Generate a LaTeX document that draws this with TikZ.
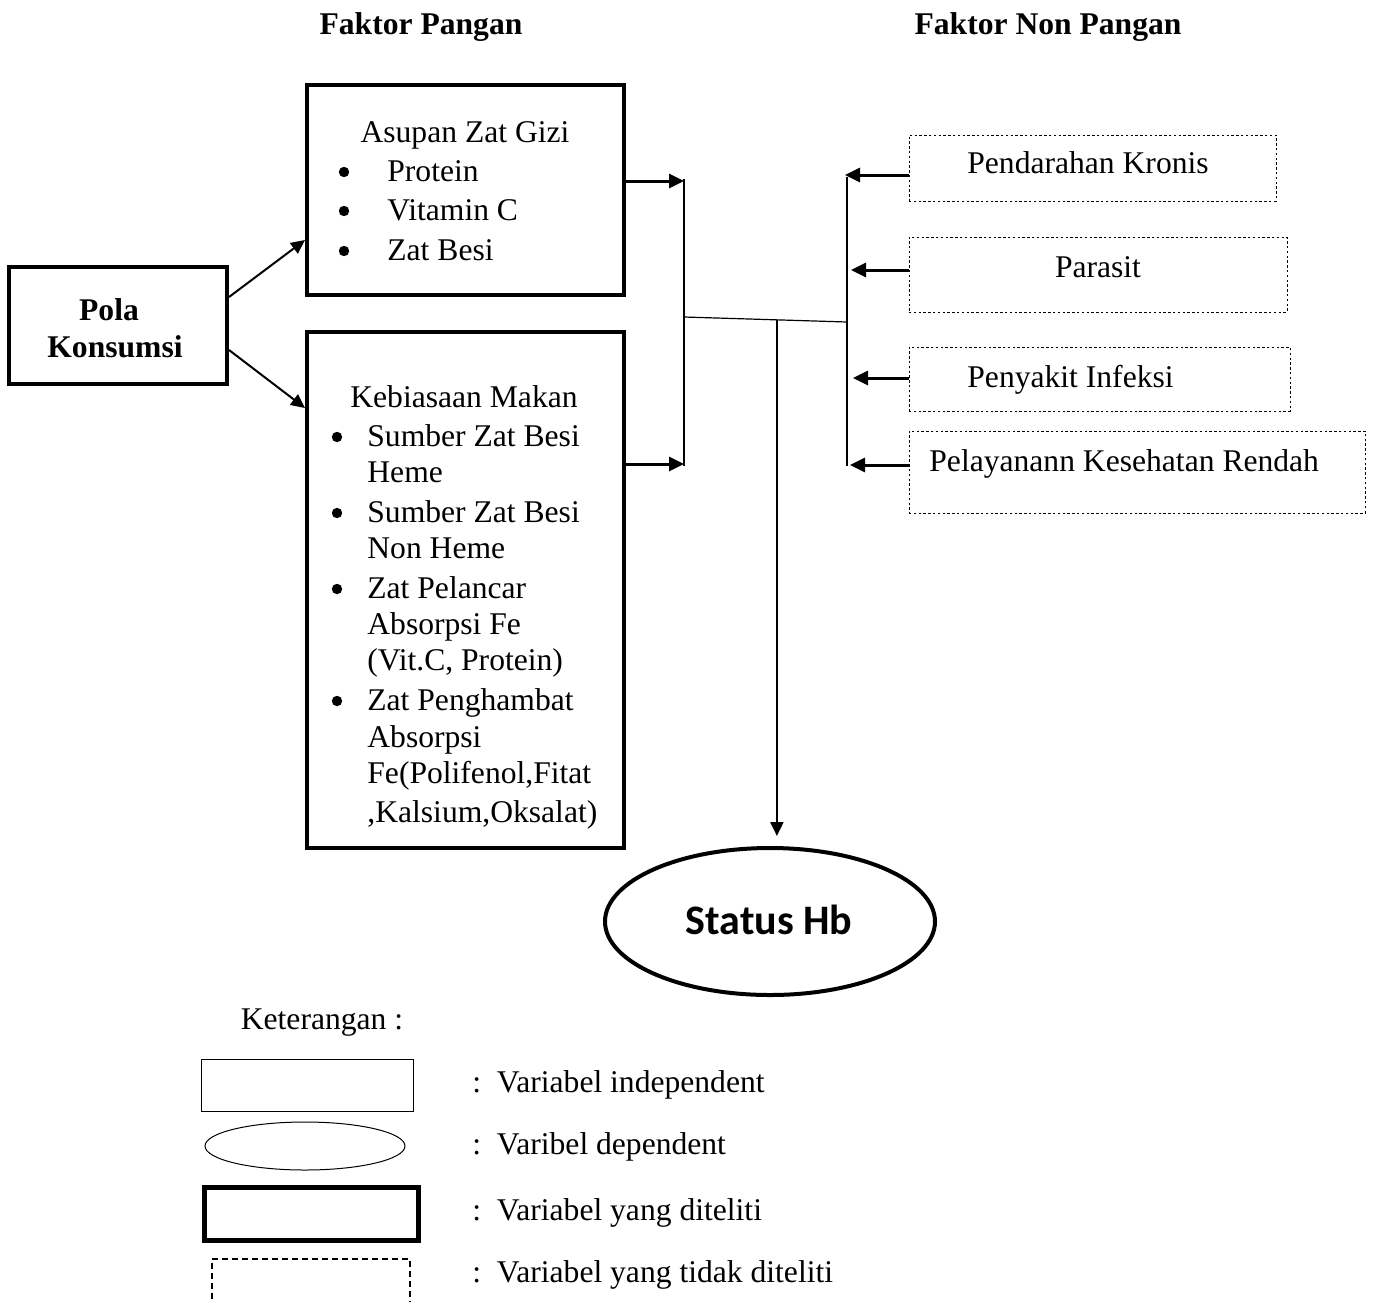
\documentclass[tikz,border=0pt]{standalone}
\usepackage{fontspec}
\setmainfont{Liberation Serif}
\newfontfamily\calib{Carlito}
\usetikzlibrary{arrows.meta,shapes.geometric,calc}
\begin{document}
\begin{tikzpicture}[x=0.5pt,y=-0.5pt,
  txt/.style={font=\fontsize{15.8}{19}\selectfont, inner sep=0pt, anchor=base},
  txtw/.style={txt, anchor=base west},
  btxt/.style={txt, font=\fontsize{15.8}{19}\selectfont\bfseries},
  bul/.style={circle, fill, inner sep=0pt, minimum size=5.2pt},
  thickbox/.style={draw, line width=2pt, inner sep=0pt},
  dotbox/.style={draw, line width=0.5pt, dash pattern=on 1.2pt off 1.2pt, inner sep=0pt},
  thinline/.style={line width=0.6pt},
  bigarrow/.style={line width=1.5pt, -{Triangle[length=7.5pt,width=7pt]}},
  midarrow/.style={line width=1pt, -{Triangle[length=7pt,width=6.5pt]}},
]
\useasboundingbox (0,0) rectangle (1374,1301);
\clip (0,0) rectangle (1374,1301);

% titles
\node[btxt] (t1) at (421,34) {Faktor Pangan};
\node[btxt] (t2) at (1048,34) {Faktor Non Pangan};

% main boxes
\node[thickbox, minimum width=109pt, minimum height=58.5pt] (pola) at (118,325.5) {};
\node[btxt] (pola1) at (109,320) {Pola};
\node[btxt] (pola2) at (115,357) {Konsumsi};

\node[thickbox, minimum width=158.5pt, minimum height=105pt] (asupan) at (465.5,190) {};
\node[txt] (as0) at (465,142) {Asupan Zat Gizi};
\node[bul] (asb1) at (344,172) {};
\node[bul] (asb2) at (344,211) {};
\node[bul] (asb3) at (344,251) {};
\node[txtw] (as1) at (387,181) {Protein};
\node[txtw] (as2) at (387,220) {Vitamin C};
\node[txtw] (as3) at (387,260) {Zat Besi};

\node[thickbox, minimum width=158.5pt, minimum height=258pt] (kebiasaan) at (465.5,590) {};
\node[txt] (kb0) at (464,407) {Kebiasaan Makan};
\node[bul] (kbb1) at (337,437) {};
\node[bul] (kbb2) at (337,513) {};
\node[bul] (kbb3) at (337,589) {};
\node[bul] (kbb4) at (337,701) {};
\node[txtw] (kb1) at (367,446) {Sumber Zat Besi};
\node[txtw] (kb2) at (367,482) {Heme};
\node[txtw] (kb3) at (367,522) {Sumber Zat Besi};
\node[txtw] (kb4) at (367,558) {Non Heme};
\node[txtw] (kb5) at (367,598) {Zat Pelancar};
\node[txtw] (kb6) at (367,634) {Absorpsi Fe};
\node[txtw] (kb7) at (367,670) {(Vit.C, Protein)};
\node[txtw] (kb8) at (367,710) {Zat Penghambat};
\node[txtw] (kb9) at (367,747) {Absorpsi};
\node[txtw] (kb10) at (367,783) {Fe(Polifenol,Fitat};
\node[txtw] (kb11) at (367,822) {,Kalsium,Oksalat)};

% non-food boxes
\node[dotbox, minimum width=183.5pt, minimum height=33pt] (pend) at (1092.5,168) {};
\node[txt] (pendt) at (1088,173) {Pendarahan Kronis};
\node[dotbox, minimum width=189pt, minimum height=37.5pt] (paras) at (1098,274.5) {};
\node[txt] (parast) at (1098,277) {Parasit};
\node[dotbox, minimum width=190.5pt, minimum height=32pt] (peny) at (1099.5,379) {};
\node[txtw] (penyt) at (967,387) {Penyakit Infeksi};
\node[dotbox, minimum width=228pt, minimum height=41pt] (pelay) at (1137,472) {};
\node[txtw] (pelayt) at (929,471) {Pelayanann Kesehatan Rendah};

% dependent ellipse
\node[ellipse, draw, line width=2pt, minimum width=165pt, minimum height=73.5pt, inner sep=0pt] (status) at (770,921.5) {};
\node[inner sep=0pt, font=\calib\bfseries\fontsize{21}{25}\selectfont] (statust) at (769,920) {Status Hb};

% connector skeleton
\coordinate (bL1) at (684,179);
\coordinate (bL2) at (684,466);
\coordinate (jL) at (684,317);
\coordinate (jR) at (847,322);
\coordinate (bR1) at (847,177);
\coordinate (bR2) at (847,466);
\coordinate (jD) at ($(jL)!0.57!(jR)$);

\draw[thinline] (bL1) -- (bL2);
\draw[thinline] (bR1) -- (bR2);
\draw[thinline] (jL) -- (jR);
\draw[midarrow] (jD) -- (jD |- status.north) [shorten >=5pt];

% arrows
\draw[midarrow] (pola.east |- 0,297) -- (asupan.west |- 0,240);
\draw[midarrow] (pola.east |- 0,350) -- (kebiasaan.west |- 0,408);
\draw[bigarrow] (asupan.east |- 0,181) -- (bL1 |- 0,181);
\draw[bigarrow] (kebiasaan.east |- 0,464) -- (bL1 |- 0,464);
\draw[bigarrow] (pend.west |- 0,175) -- (845,175);
\draw[bigarrow] (paras.west |- 0,270) -- (851,270);
\draw[bigarrow] (peny.west |- 0,378) -- (853,378);
\draw[bigarrow] (pelay.west |- 0,465) -- (850,465);

% legend
\node[txt] (ket) at (322,1029) {Keterangan :};
\node[draw, line width=0.5pt, minimum width=106pt, minimum height=26pt, inner sep=0pt] (lg1) at (307,1085) {};
\node[ellipse, draw, line width=0.5pt, minimum width=100pt, minimum height=24pt, inner sep=0pt] (lg2) at (305,1146) {};
\node[draw, line width=2.5pt, minimum width=107pt, minimum height=26.5pt, inner sep=0pt] (lg3) at (311,1213.5) {};
\node[draw, line width=0.6pt, dash pattern=on 3pt off 2pt, minimum width=99pt, minimum height=30pt, inner sep=0pt] (lg4) at (311,1289) {};
\node[txtw] (lt1) at (472,1092) {:\ \ Variabel independent};
\node[txtw] (lt2) at (472,1154) {:\ \ Varibel dependent};
\node[txtw] (lt3) at (472,1220) {:\ \ Variabel yang diteliti};
\node[txtw] (lt4) at (472,1282) {:\ \ Variabel yang tidak diteliti};
\end{tikzpicture}
\end{document}
